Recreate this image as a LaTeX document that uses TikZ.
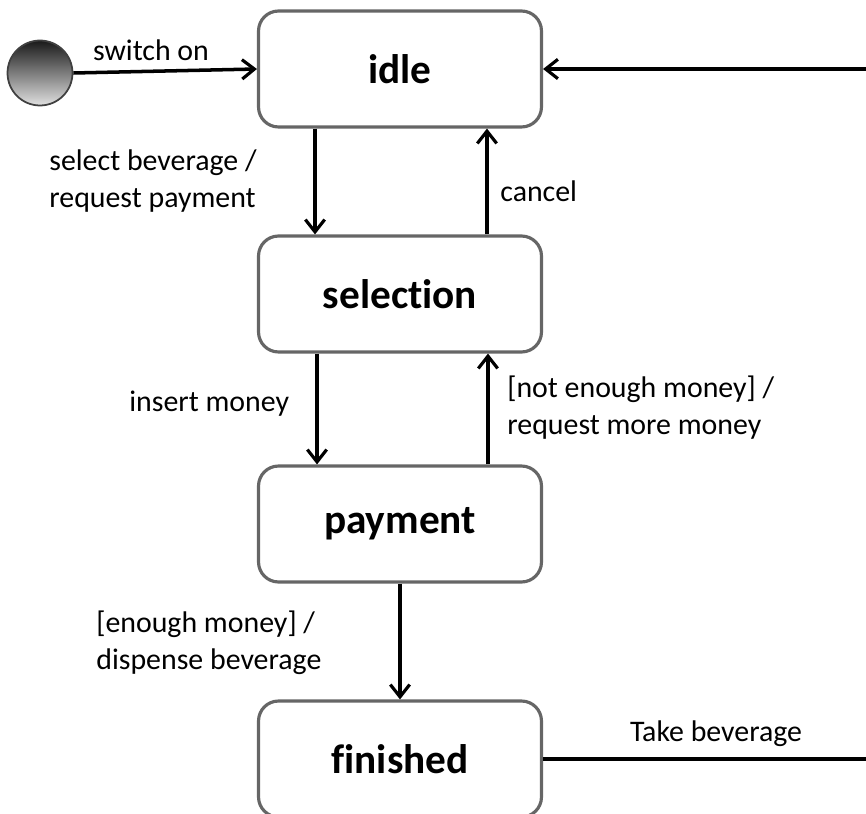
\documentclass[tikz,border=0pt]{standalone}
\usepackage{fontspec}
\setmainfont{Carlito}[Ligatures=NoCommon]
\usetikzlibrary{arrows.meta,positioning}

\begin{document}
\begin{tikzpicture}[x=0.02cm,y=-0.02cm,
  state/.style={draw=black!60,line width=1.8pt,rounded corners=0.4cm,
    minimum width=5.66cm,minimum height=2.32cm,font=\fontsize{23.5}{27}\selectfont\bfseries},
  init/.style={circle,draw=black!75,line width=1pt,inner sep=0pt,minimum size=1.3cm,
    top color=black!90,bottom color=black!12},
  trans/.style={-{Straight Barb[length=7pt,width=11pt,line width=1.8pt]},line width=2pt},
  lbl/.style={font=\fontsize{17}{21}\selectfont,align=left,inner sep=0pt}]
\useasboundingbox (0,0) rectangle (866,814);

\node[init] (start) at (40,73) {};
\node[state] (idle) at (400,69) {idle};
\node[state] (sel) at (400,294) {selection};
\node[state] (pay) at (400,524) {payment};
\node[state] (fin) at (400,759) {finished};
\coordinate (r1) at (900,758);

\draw[trans] (start.east) -- (idle.west);
\draw[trans] ([xshift=-1.7cm]idle.south) -- ([xshift=-1.7cm]sel.north);
\draw[trans] ([xshift=1.74cm]sel.north) -- ([xshift=1.74cm]idle.south);
\draw[trans] ([xshift=-1.66cm]sel.south) -- ([xshift=-1.66cm]pay.north);
\draw[trans] ([xshift=1.76cm]pay.north) -- ([xshift=1.76cm]sel.south);
\draw[trans] (pay.south) -- (fin.north);
\draw[trans] (fin.east) -- (fin.east -| r1) -- (r1 |- idle.east) -- (idle.east);

\node[lbl] (l0) at (151,50) {switch on};
\node[lbl,anchor=west] (l1) at (49,181) {select beverage /\\request payment};
\node[lbl,anchor=west] (l2) at (500,191) {cancel};
\node[lbl,anchor=west] (l3) at (129,404) {insert money};
\node[lbl,anchor=west] (l4) at (507,408) {[not enough money] /\\request more money};
\node[lbl,anchor=west] (l5) at (96,643) {[enough money] /\\dispense beverage};
\node[lbl] (l6) at (716,734) {Take beverage};
\end{tikzpicture}
\end{document}
